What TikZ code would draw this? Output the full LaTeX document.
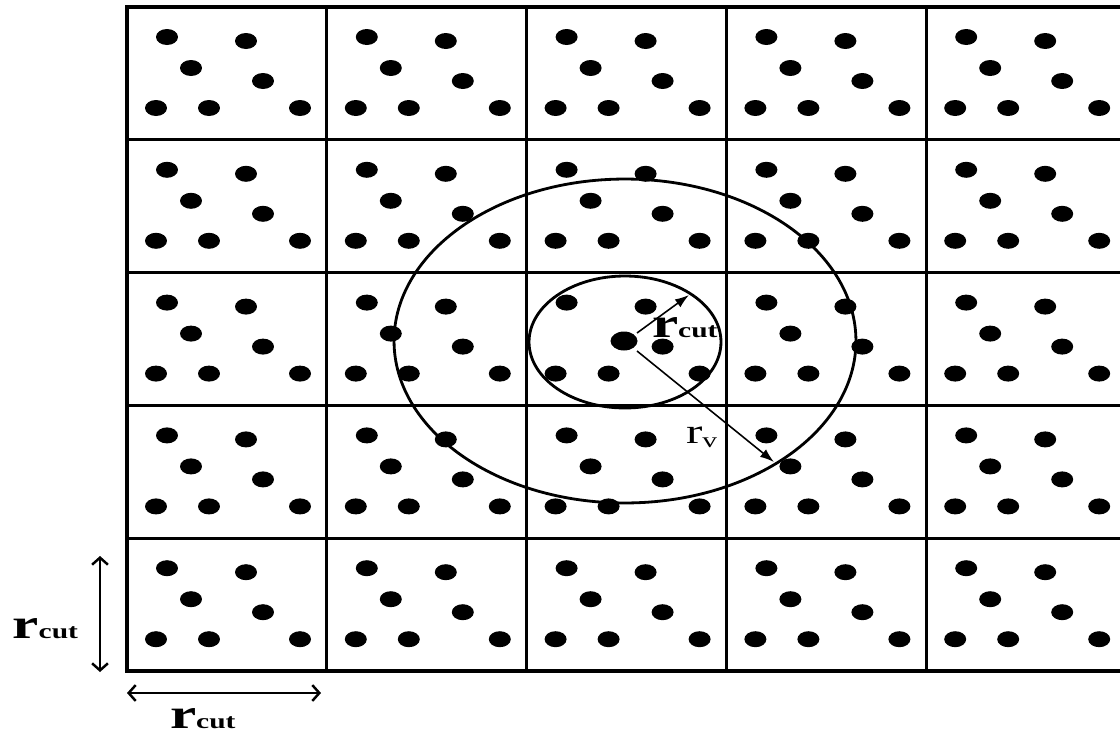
\documentclass[tikz,border=0pt]{standalone}
\usepackage{fontspec}
\setmainfont{Liberation Serif}
\usetikzlibrary{arrows.meta}
\begin{document}
\begin{tikzpicture}[x=0.02cm,y=-0.02cm,
  gridline/.style={line width=1.8pt,line cap=rect},
  ring/.style={line width=1.6pt},
  radarrow/.style={line width=0.9pt,-{Latex[length=8pt,width=5.5pt]}},
  dimarrow/.style={line width=1.4pt,{Straight Barb[length=4pt,width=9pt]}-{Straight Barb[length=4pt,width=9pt]}},
  lbl/.style={inner sep=0pt,outer sep=0pt}]
\useasboundingbox (0,0) rectangle (1120,734);
\fill[white] (0,0) rectangle (1120,734);
\begin{scope}
\clip (0,0) rectangle (1120,734);
\foreach \i in {0,...,5} \draw[gridline] ({127+199.8*\i},7) -- ({127+199.8*\i},671);
\foreach \j in {0,...,5} \draw[gridline] (127,{7+132.8*\j}) -- (1140,{7+132.8*\j});
\foreach \i in {0,...,4} {
  \foreach \j in {0,...,4} {
    \foreach \dx/\dy in {40/30,119/34,136/74,29/101,82/101,173/101}
      \fill ({127+199.8*\i+\dx},{7+132.8*\j+\dy}) ellipse [x radius=0.22cm, y radius=0.16cm];
    \ifnum\i\j=22 \else
      \fill ({127+199.8*\i+64},{7+132.8*\j+61}) ellipse [x radius=0.22cm, y radius=0.16cm];
    \fi
  }
}
\end{scope}
% central particle and cut-off regions
\coordinate (ctr) at (624,341);
\fill (ctr) ellipse [x radius=0.27cm, y radius=0.19cm];
\draw[ring] (625,342) ellipse [x radius=1.92cm, y radius=1.32cm];
\draw[ring] (625,341) ellipse [x radius=4.62cm, y radius=3.24cm];
% radius arrows
\coordinate (a1s) at (637,333);
\coordinate (a1e) at (689,295);
\draw[radarrow] (a1s) -- (a1e);
\coordinate (a2s) at (637,351);
\coordinate (a2e) at (774,462);
\draw[radarrow] (a2s) -- (a2e);
\node[lbl,anchor=base west] (rcutc) at (652,337)
  {\scalebox{1.4}[1]{\bfseries\fontsize{24}{24}\selectfont r\fontsize{12}{12}\selectfont cut}};
\node[lbl,anchor=base west] (rv) at (686,443)
  {\scalebox{1.4}[1]{\fontsize{20}{20}\selectfont r\raisebox{-2.6pt}{\fontsize{12}{12}\selectfont v}}};
% dimension arrows
\coordinate (v1) at (100,556);
\coordinate (v2) at (100,672);
\draw[dimarrow] (v1) -- (v2);
\coordinate (h1) at (127,693);
\coordinate (h2) at (321,693);
\draw[dimarrow] (h1) -- (h2);
\node[lbl,anchor=base east] (rcutl) at (78,638)
  {\scalebox{1.4}[1]{\bfseries\fontsize{24}{24}\selectfont r\fontsize{12}{12}\selectfont cut}};
\node[lbl,anchor=base west] (rcutb) at (170,728)
  {\scalebox{1.4}[1]{\bfseries\fontsize{24}{24}\selectfont r\fontsize{12}{12}\selectfont cut}};
\end{tikzpicture}
\end{document}
